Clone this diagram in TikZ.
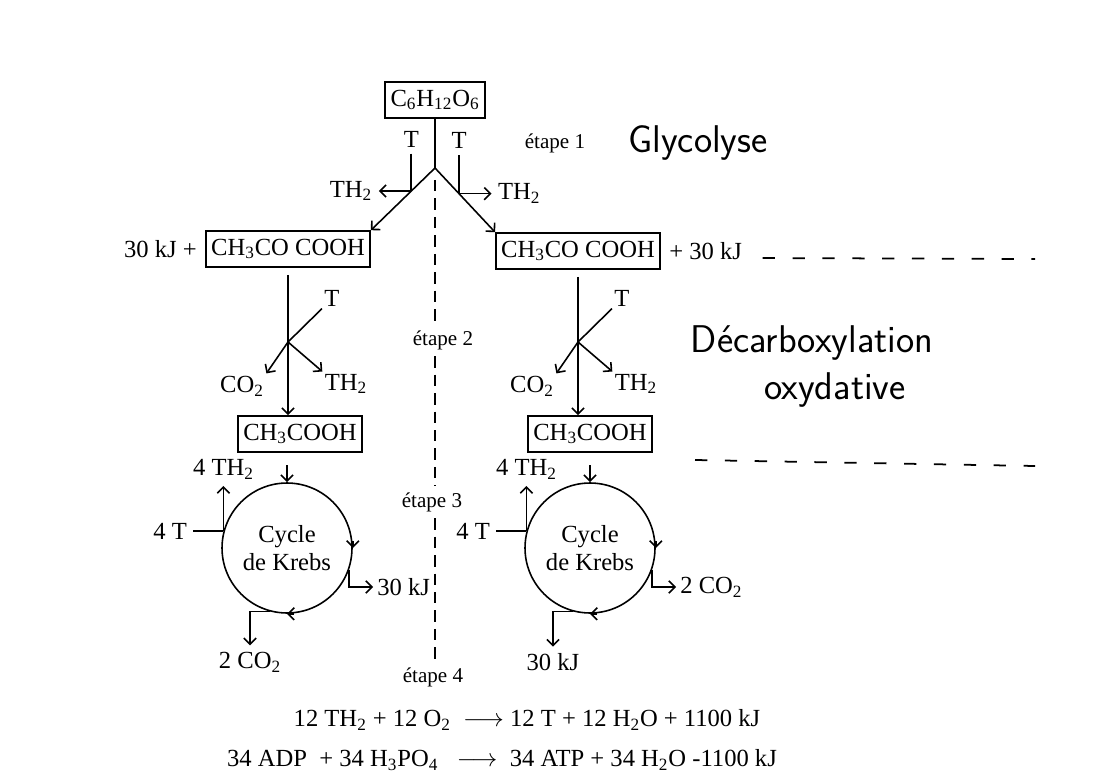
\documentclass[tikz,border=0pt]{standalone}
\usepackage{fontspec}
\setmainfont{Liberation Serif}
\usetikzlibrary{arrows.meta,positioning,calc}
\newcommand{\chsub}[1]{\textsubscript{#1}}
\begin{document}
\begin{tikzpicture}[x=0.02cm,y=-0.02cm,>={Straight Barb[length=3.5pt,width=7pt]},line width=0.9pt,font=\fontsize{14}{16}\selectfont]
\tikzstyle{mol}=[draw,minimum height=0.72cm,inner xsep=3pt]
\tikzstyle{lab}=[inner sep=1pt]
\tikzstyle{stage}=[font=\fontsize{12}{14}\selectfont]
\tikzstyle{hand}=[font=\sffamily\fontsize{22}{24}\selectfont]
\tikzstyle{sep}=[dash pattern=on 6.5pt off 4pt,line width=1.2pt]
\tikzstyle{scribble}=[dash pattern=on 7pt off 10pt,line width=1pt]
\fill[white] (0,0) rectangle (1118,780);
\useasboundingbox (0,0) rectangle (1118,780);
% glycolyse
\node[mol] (glu) at (435,100) {C\chsub{6}H\chsub{12}O\chsub{6}};
\coordinate (v) at (435,168);
\node[mol] (pyrl) at (288,249) {CH\chsub{3}CO COOH};
\node[mol] (pyrr) at (578,251) {CH\chsub{3}CO COOH};
\node[left=1pt of pyrl] (kjl) {30 kJ +};
\node[right=1pt of pyrr] (kjr) {+ 30 kJ};
\draw (glu) -- (v);
\draw[->] (v) -- (pyrl.north east);
\draw[->] (v) -- (pyrr.north west);
\coordinate (il) at ($(v)!0.37!(pyrl.north east)$);
\coordinate (ir) at ($(v)!0.40!(pyrr.north west)$);
\path (il) ++(0,-52) node (tl) {T};
\path (ir) ++(0,-53) node (tr) {T};
\draw (tl) -- (il); \draw (tr) -- (ir);
\node[left=0.65cm of il] (thl) {TH\chsub{2}};
\node[right=0.65cm of ir] (thr) {TH\chsub{2}};
\draw[->] (il) -- (thl); \draw[->] (ir) -- (thr);
\node[stage] (e1) at (555,143) {étape 1};
\node[hand] (gly) at (698,143) {Glycolyse};
% separation des etapes
\coordinate (d0) at (435,180);
\node[stage] (e2) at (443,340) {étape 2};
\node[stage] (e3) at (432,502) {étape 3};
\node[stage] (e4) at (433,677) {étape 4};
\draw[sep] (d0) -- (d0 |- e2.north);
\draw[sep] (d0 |- e2.south) -- (d0 |- e3.north);
\draw[sep] (d0 |- e3.south) -- (d0 |- e4.north);
% decarboxylation + krebs, deux colonnes
\foreach \s/\x/\k/\out/\down in {l/288/287/30 kJ/2 CO\chsub{2},r/578/590/2 CO\chsub{2}/30 kJ} {
 \coordinate (br\s) at (\x,342);
 \node[mol] (ac\s) at (\x+12,434) {CH\chsub{3}COOH};
 \draw[->,shorten <=4pt] (pyr\s.south) -- (pyr\s.south |- ac\s.north);
 \node[lab] (tt\s) at (\x+44,298) {T};
 \node[lab] (co\s) at (\x-46,386) {CO\chsub{2}};
 \node[lab] (tw\s) at (\x+58,384) {TH\chsub{2}};
 \draw (br\s) -- (tt\s.south west);
 \draw[->] (br\s) -- (co\s.north east);
 \draw[->] (br\s) -- (tw\s.north west);
 \node[circle,draw,minimum size=2.6cm,inner sep=0pt,align=center] (kr\s) at (\k,548) {Cycle\\de Krebs};
 \draw[->,shorten <=7pt] (ac\s.south -| kr\s) -- (kr\s);
 \draw[->] ([yshift=4pt]kr\s.east) -- (kr\s.east);
 \draw[->] ([xshift=4pt]kr\s.south) -- (kr\s.south);
 \node[left=0.6cm of kr\s.165] (ft\s) {4 T};
 \draw (ft\s) -- (kr\s.165);
 \node[above=0.9cm of kr\s.165] (fh\s) {4 TH\chsub{2}};
 \draw[->] (kr\s.165) -- (fh\s);
 \node[anchor=west,inner xsep=2pt] (ox\s) at (\k+86,587) {\out};
 \draw[->] (kr\s.-20) |- (ox\s);
 \node (dn\s) at (\k-37,662) {\down};
 \draw[->] (kr\s.-105) -| (dn\s);
}
\node[hand] (dec) at (812,343) {Décarboxylation};
\node[hand] (oxy) at (835,390) {oxydative};
\coordinate (hr1) at (1035,259);
\coordinate (hs2) at (695,460);
\coordinate (hr2) at (1035,466);
\draw[scribble] ([shift={(8pt,-4pt)}]kjr.east) -- (hr1);
\draw[scribble] (hs2) -- (hr2);
% bilan
\node (eq1) at (527,720) {12 TH\chsub{2} + 12 O\chsub{2} ~$\longrightarrow$ 12 T + 12 H\chsub{2}O + 1100 kJ};
\node (eq2) at (502,760) {34 ADP ~+ 34 H\chsub{3}PO\chsub{4} ~~$\longrightarrow$~ 34 ATP + 34 H\chsub{2}O -1100 kJ};
\end{tikzpicture}
\end{document}
